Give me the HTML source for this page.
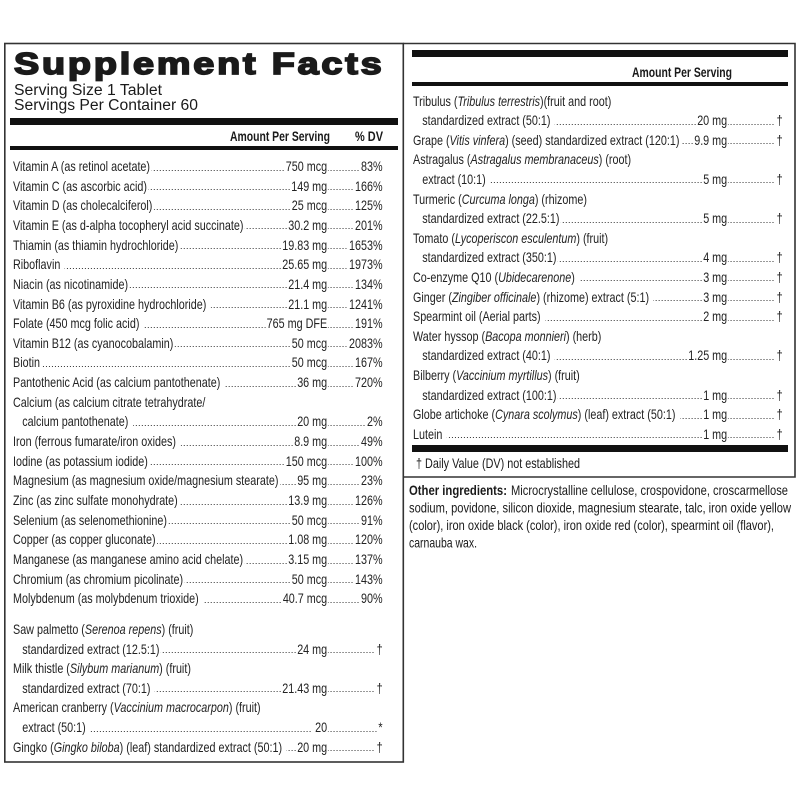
<!DOCTYPE html>
<html>
<head>
<meta charset="utf-8">
<style>
  html,body{margin:0;padding:0;background:#fff;}
  body{width:800px;height:800px;position:relative;overflow:hidden;font-family:"Liberation Sans",Arial,sans-serif;color:#222;}
  svg{position:absolute;left:0;top:0;}
  .col{position:absolute;top:0;width:480px;height:800px;transform:scaleX(0.77);transform-origin:0 0;font-size:14px;}
  .r{position:absolute;left:0;width:480px;height:16px;line-height:16px;white-space:nowrap;}
  .ld{position:absolute;left:0;top:11.6px;width:480px;height:1.4px;
      background-image:linear-gradient(to right,#333 1.5px,transparent 1.5px);
      background-size:3.9px 1.4px;background-repeat:repeat-x;}
  .lb{position:relative;background:#fff;padding-right:2px;}
  .in{padding-left:12px;}
  .am{position:absolute;top:0;right:71px;background:#fff;padding:0 1px 0 1px;}
  .dv{position:absolute;top:0;right:0;background:#fff;padding-left:3px;}
  .sp{padding-left:5px;}
</style>
</head>
<body>
<svg width="800" height="800" viewBox="0 0 800 800">
  <!-- boxes -->
  <rect x="4.8" y="43.5" width="398.5" height="718.5" fill="none" stroke="#333" stroke-width="1.6"/>
  <path d="M403.3 43.5 H795 V477 H403.3" fill="none" stroke="#333" stroke-width="1.6"/>
  <!-- left bars -->
  <rect x="10" y="118" width="388" height="7" fill="#111"/>
  <rect x="10" y="146" width="388" height="4" fill="#111"/>
  <!-- right bars -->
  <rect x="412" y="50" width="376" height="7" fill="#111"/>
  <rect x="412" y="82" width="376" height="4" fill="#111"/>
  <rect x="412" y="445" width="376" height="7" fill="#111"/>

  <g font-family="Liberation Sans, Arial, sans-serif" fill="#1a1a1a">
    <text transform="translate(14,74) scale(1.22,1)" font-size="31" font-weight="bold" stroke="#1a1a1a" stroke-width="1.7" letter-spacing="2.3">Supplement Facts</text>
    <text x="14" y="95" font-size="15.5" textLength="148" lengthAdjust="spacingAndGlyphs">Serving Size 1 Tablet</text>
    <text x="14" y="110" font-size="15.5" textLength="184" lengthAdjust="spacingAndGlyphs">Servings Per Container 60</text>

    <text x="230" y="141" font-size="14" font-weight="bold" textLength="100" lengthAdjust="spacingAndGlyphs">Amount Per Serving</text>
    <text x="355" y="141" font-size="14" font-weight="bold" textLength="28" lengthAdjust="spacingAndGlyphs">% DV</text>

    <text x="632" y="77" font-size="14" font-weight="bold" textLength="100" lengthAdjust="spacingAndGlyphs">Amount Per Serving</text>

    <text x="416" y="468" font-size="14" textLength="164" lengthAdjust="spacingAndGlyphs">† Daily Value (DV) not established</text>

    <text x="409" y="495" font-size="14" font-weight="bold" textLength="98" lengthAdjust="spacingAndGlyphs">Other ingredients:</text>
    <text x="511" y="495" font-size="14" textLength="277" lengthAdjust="spacingAndGlyphs">Microcrystalline cellulose, crospovidone, croscarmellose</text>
    <text x="409" y="512.5" font-size="14" textLength="382" lengthAdjust="spacingAndGlyphs">sodium, povidone, silicon dioxide, magnesium stearate, talc, iron oxide yellow</text>
    <text x="409" y="530" font-size="14" textLength="365" lengthAdjust="spacingAndGlyphs">(color), iron oxide black (color), iron oxide red (color), spearmint oil (flavor),</text>
    <text x="409" y="547.5" font-size="14" textLength="68" lengthAdjust="spacingAndGlyphs">carnauba wax.</text>
  </g>
</svg>

<!-- LEFT COLUMN ROWS -->
<div class="col" style="left:13px;">
  <div class="r" style="top:158px"><span class="ld"></span><span class="lb">Vitamin A (as retinol acetate)</span><span class="am">750 mcg</span><span class="dv">83%</span></div>
  <div class="r" style="top:177.6px"><span class="ld"></span><span class="lb">Vitamin C (as ascorbic acid)</span><span class="am">149 mg</span><span class="dv">166%</span></div>
  <div class="r" style="top:197.2px"><span class="ld"></span><span class="lb">Vitamin D (as cholecalciferol)</span><span class="am">25 mcg</span><span class="dv">125%</span></div>
  <div class="r" style="top:216.9px"><span class="ld"></span><span class="lb">Vitamin E (as d-alpha tocopheryl acid succinate)</span><span class="am">30.2 mg</span><span class="dv">201%</span></div>
  <div class="r" style="top:236.5px"><span class="ld"></span><span class="lb">Thiamin (as thiamin hydrochloride)</span><span class="am">19.83 mg</span><span class="dv">1653%</span></div>
  <div class="r" style="top:256.2px"><span class="ld"></span><span class="lb">Riboflavin&nbsp;</span><span class="am">25.65 mg</span><span class="dv">1973%</span></div>
  <div class="r" style="top:275.8px"><span class="ld"></span><span class="lb">Niacin (as nicotinamide)</span><span class="am">21.4 mg</span><span class="dv">134%</span></div>
  <div class="r" style="top:295.5px"><span class="ld"></span><span class="lb">Vitamin B6 (as pyroxidine hydrochloride)&nbsp;</span><span class="am">21.1 mg</span><span class="dv">1241%</span></div>
  <div class="r" style="top:315.1px"><span class="ld"></span><span class="lb">Folate (450 mcg folic acid)&nbsp;</span><span class="am">765 mg DFE</span><span class="dv">191%</span></div>
  <div class="r" style="top:334.8px"><span class="ld"></span><span class="lb">Vitamin B12 (as cyanocobalamin)</span><span class="am">50 mcg</span><span class="dv">2083%</span></div>
  <div class="r" style="top:354.4px"><span class="ld"></span><span class="lb">Biotin</span><span class="am">50 mcg</span><span class="dv">167%</span></div>
  <div class="r" style="top:374.1px"><span class="ld"></span><span class="lb">Pantothenic Acid (as calcium pantothenate)&nbsp;</span><span class="am">36 mg</span><span class="dv">720%</span></div>
  <div class="r" style="top:393.8px"><span class="lb">Calcium (as calcium citrate tetrahydrate/</span></div>
  <div class="r" style="top:413.4px"><span class="ld"></span><span class="lb in">calcium pantothenate)&nbsp;</span><span class="am">20 mg</span><span class="dv">2%</span></div>
  <div class="r" style="top:433.1px"><span class="ld"></span><span class="lb">Iron (ferrous fumarate/iron oxides)&nbsp;</span><span class="am">8.9 mg</span><span class="dv">49%</span></div>
  <div class="r" style="top:452.7px"><span class="ld"></span><span class="lb">Iodine (as potassium iodide)</span><span class="am">150 mcg</span><span class="dv">100%</span></div>
  <div class="r" style="top:472.4px"><span class="ld"></span><span class="lb">Magnesium (as magnesium oxide/magnesium stearate)</span><span class="am">95 mg</span><span class="dv">23%</span></div>
  <div class="r" style="top:492px"><span class="ld"></span><span class="lb">Zinc (as zinc sulfate monohydrate)</span><span class="am">13.9 mg</span><span class="dv">126%</span></div>
  <div class="r" style="top:511.7px"><span class="ld"></span><span class="lb">Selenium (as selenomethionine)</span><span class="am">50 mcg</span><span class="dv">91%</span></div>
  <div class="r" style="top:531.3px"><span class="ld"></span><span class="lb">Copper (as copper gluconate)</span><span class="am">1.08 mg</span><span class="dv">120%</span></div>
  <div class="r" style="top:551px"><span class="ld"></span><span class="lb">Manganese (as manganese amino acid chelate)</span><span class="am">3.15 mg</span><span class="dv">137%</span></div>
  <div class="r" style="top:570.6px"><span class="ld"></span><span class="lb">Chromium (as chromium picolinate)</span><span class="am">50 mcg</span><span class="dv">143%</span></div>
  <div class="r" style="top:590.2px"><span class="ld"></span><span class="lb">Molybdenum (as molybdenum trioxide)&nbsp;</span><span class="am">40.7 mcg</span><span class="dv">90%</span></div>

  <div class="r" style="top:621px"><span class="lb">Saw palmetto (<i>Serenoa repens</i>) (fruit)</span></div>
  <div class="r" style="top:640.6px"><span class="ld"></span><span class="lb in">standardized extract (12.5:1)</span><span class="am">24 mg</span><span class="dv">†</span></div>
  <div class="r" style="top:660.2px"><span class="lb">Milk thistle (<i>Silybum marianum</i>) (fruit)</span></div>
  <div class="r" style="top:679.8px"><span class="ld"></span><span class="lb in">standardized extract (70:1)&nbsp;</span><span class="am">21.43 mg</span><span class="dv">†</span></div>
  <div class="r" style="top:699.4px"><span class="lb">American cranberry (<i>Vaccinium macrocarpon</i>) (fruit)</span></div>
  <div class="r" style="top:719px"><span class="ld"></span><span class="lb in">extract (50:1)&nbsp;</span><span class="am sp">20</span><span class="dv">*</span></div>
  <div class="r" style="top:738.6px"><span class="ld"></span><span class="lb">Gingko (<i>Gingko biloba</i>) (leaf) standardized extract (50:1)&nbsp;</span><span class="am">20 mg</span><span class="dv">†</span></div>
</div>

<!-- RIGHT COLUMN ROWS -->
<div class="col" style="left:413px;">
  <div class="r" style="top:92.5px"><span class="lb">Tribulus (<i>Tribulus terrestris</i>)(fruit and root)</span></div>
  <div class="r" style="top:112.1px"><span class="ld"></span><span class="lb in">standardized extract (50:1)&nbsp;</span><span class="am">20 mg</span><span class="dv">†</span></div>
  <div class="r" style="top:131.7px"><span class="ld"></span><span class="lb">Grape (<i>Vitis vinfera</i>) (seed) standardized extract (120:1)</span><span class="am">9.9 mg</span><span class="dv">†</span></div>
  <div class="r" style="top:151.3px"><span class="lb">Astragalus (<i>Astragalus membranaceus</i>) (root)</span></div>
  <div class="r" style="top:170.9px"><span class="ld"></span><span class="lb in">extract (10:1)&nbsp;</span><span class="am">5 mg</span><span class="dv">†</span></div>
  <div class="r" style="top:190.5px"><span class="lb">Turmeric (<i>Curcuma longa</i>) (rhizome)</span></div>
  <div class="r" style="top:210.1px"><span class="ld"></span><span class="lb in">standardized extract (22.5:1)</span><span class="am">5 mg</span><span class="dv">†</span></div>
  <div class="r" style="top:229.7px"><span class="lb">Tomato (<i>Lycoperiscon esculentum</i>) (fruit)</span></div>
  <div class="r" style="top:249.3px"><span class="ld"></span><span class="lb in">standardized extract (350:1)</span><span class="am">4 mg</span><span class="dv">†</span></div>
  <div class="r" style="top:268.9px"><span class="ld"></span><span class="lb">Co-enzyme Q10 (<i>Ubidecarenone</i>)&nbsp;</span><span class="am">3 mg</span><span class="dv">†</span></div>
  <div class="r" style="top:288.5px"><span class="ld"></span><span class="lb">Ginger (<i>Zingiber officinale</i>) (rhizome) extract (5:1)&nbsp;</span><span class="am">3 mg</span><span class="dv">†</span></div>
  <div class="r" style="top:308.1px"><span class="ld"></span><span class="lb">Spearmint oil (Aerial parts)&nbsp;</span><span class="am">2 mg</span><span class="dv">†</span></div>
  <div class="r" style="top:327.7px"><span class="lb">Water hyssop (<i>Bacopa monnieri</i>) (herb)</span></div>
  <div class="r" style="top:347.3px"><span class="ld"></span><span class="lb in">standardized extract (40:1)&nbsp;</span><span class="am">1.25 mg</span><span class="dv">†</span></div>
  <div class="r" style="top:366.9px"><span class="lb">Bilberry (<i>Vaccinium myrtillus</i>) (fruit)</span></div>
  <div class="r" style="top:386.5px"><span class="ld"></span><span class="lb in">standardized extract (100:1)</span><span class="am">1 mg</span><span class="dv">†</span></div>
  <div class="r" style="top:406.1px"><span class="ld"></span><span class="lb">Globe artichoke (<i>Cynara scolymus</i>) (leaf) extract (50:1)&nbsp;</span><span class="am">1 mg</span><span class="dv">†</span></div>
  <div class="r" style="top:425.7px"><span class="ld"></span><span class="lb">Lutein&nbsp;</span><span class="am">1 mg</span><span class="dv">†</span></div>
</div>
</body>
</html>
